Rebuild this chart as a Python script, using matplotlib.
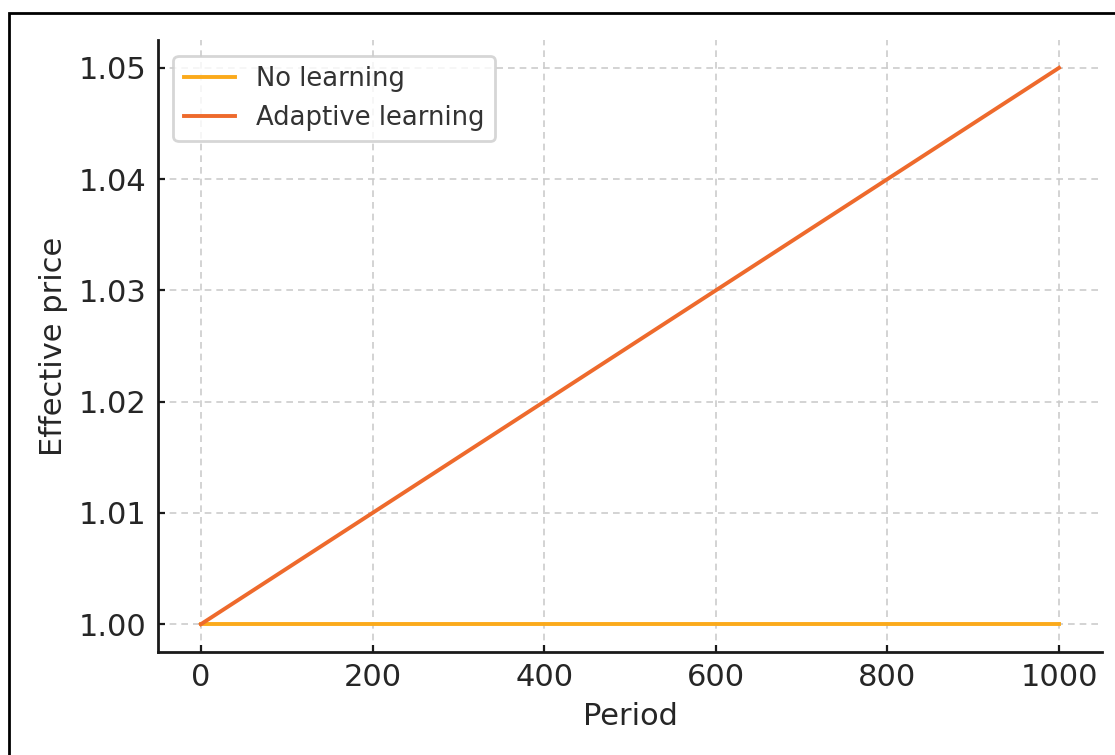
import matplotlib
matplotlib.use("Agg")
import matplotlib.pyplot as plt
from matplotlib.patches import Rectangle

# data
periods = [0, 1000]
no_learning = [1.00, 1.00]
adaptive_learning = [1.00, 1.05]
x_ticks = [0, 200, 400, 600, 800, 1000]
y_ticks = [1.00, 1.01, 1.02, 1.03, 1.04, 1.05]

text_color = "#262626"

fig = plt.figure(figsize=(5.575, 3.775), dpi=200)
ax = fig.add_axes([0.1417, 0.1364, 0.8466, 0.8106])

ax.plot(periods, no_learning, color="#FBAA1B", lw=1.4, label="No learning")
ax.plot(periods, adaptive_learning, color="#EE6A2C", lw=1.4, label="Adaptive learning")

ax.set_xticks(x_ticks)
ax.set_yticks(y_ticks)
ax.set_yticklabels([f"{v:.2f}" for v in y_ticks])
ax.margins(0.05)

ax.grid(True, color="#cccccc", linestyle=(0, (4, 3)), linewidth=0.6)
for side in ["top", "right"]:
    ax.spines[side].set_visible(False)
for side in ["left", "bottom"]:
    ax.spines[side].set_color("#1a1a1a")
    ax.spines[side].set_linewidth(1.0)

ax.tick_params(direction="in", length=2.5, width=0.8, labelsize=11,
               labelcolor=text_color, color="#1a1a1a", pad=4)
ax.set_xlabel("Period", fontsize=11, color=text_color, labelpad=3.5)
ax.set_ylabel("Effective price", fontsize=11, color=text_color, labelpad=4)

leg = ax.legend(loc="upper left", fontsize=9.3, frameon=True, fancybox=True,
                handlelength=2.0, borderaxespad=0.6)
leg.get_frame().set_edgecolor("#cccccc")
for t in leg.get_texts():
    t.set_color("#333333")

# outer frame
fig.patches.append(Rectangle((9 / 1115, -0.2), 2, (755 - 13) / 755 + 0.2,
                             transform=fig.transFigure, fill=False,
                             edgecolor="black", linewidth=1.0))

fig.savefig("out.png", dpi=200)
